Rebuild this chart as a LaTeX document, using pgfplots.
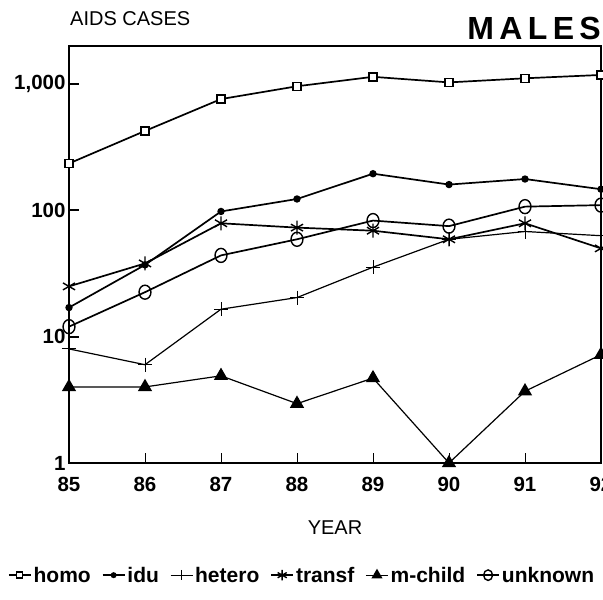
\documentclass[border=0pt]{standalone}
\usepackage{fontspec}
\setmainfont{Liberation Sans}
\usepackage{pgfplots}
\pgfplotsset{compat=1.18}
\begin{document}
\begin{tikzpicture}[x=1pt,y=1pt]
\begin{semilogyaxis}[
  at={(69pt,137pt)}, anchor=south west,
  scale only axis, width=532pt, height=417pt,
  xmin=85, xmax=92, ymin=1, ymax=2000,
  clip=false,
  axis line style={line width=2pt},
  xtick={85,86,87,88,89,90,91,92},
  xticklabels={85,86,87,88,89,90,91,92},
  ytick={1,10,100,1000},
  yticklabels={1,10,100,{1,000}},
  yminorticks=false,
  tick pos=left,
  tick align=inside,
  major tick length=10pt,
  xtick style={line width=0.9pt, black},
  ytick style={line width=1.8pt, black},
  /pgf/number format/assume math mode=true,
  xticklabel style={font=\bfseries\fontsize{20.5}{20.5}\selectfont, yshift=-11pt},
  yticklabel style={font=\bfseries\fontsize{20.5}{20.5}\selectfont},
  xlabel={YEAR},
  xlabel style={font=\fontsize{20}{20}\selectfont, at={(axis description cs:0.5,0)}, anchor=center, yshift=-65pt},
  legend columns=6,
  legend style={draw=none, fill=none, at={(axis description cs:0.438,-0.269)}, anchor=center,
    font=\bfseries\fontsize{21}{21}\selectfont,
    /tikz/every even column/.append style={column sep=9pt},
    inner sep=0pt},
  legend image code/.code={\draw[mark repeat=2,mark phase=2,#1,/tikz/every mark/.append style={scale=0.75}] plot coordinates {(0pt,0pt) (11pt,0pt) (22pt,0pt)};},
]
\addplot[black, line width=1.7pt, mark=square*, mark size=4pt, mark options={fill=white, line width=1.4pt}]
 coordinates {(85,235) (86,425) (87,760) (88,960) (89,1140) (90,1030) (91,1110) (92,1180)};
\addlegendentry{homo}
\addplot[black, line width=1.7pt, mark=*, mark size=2.8pt]
 coordinates {(85,17) (86,37) (87,98) (88,123) (89,195) (90,160) (91,177) (92,147)};
\addlegendentry{idu}
\addplot[black, line width=1.2pt, mark=+, mark size=7pt, mark options={line width=0.9pt}]
 coordinates {(85,8) (86,6) (87,16.5) (88,20.4) (89,35.5) (90,59) (91,68) (92,63)};
\addlegendentry{hetero}
\addplot[black, line width=1.7pt, mark=asterisk, mark size=7pt, mark options={line width=1.4pt}]
 coordinates {(85,25) (86,38) (87,79) (88,73) (89,69) (90,59) (91,79) (92,50)};
\addlegendentry{transf}
\addplot[black, line width=1.2pt, mark=triangle*, mark size=7pt]
 coordinates {(85,4) (86,4) (87,4.9) (88,2.95) (89,4.7) (90,1) (91,3.7) (92,7.2)};
\addlegendentry{m-child}
\addplot[black, line width=1.7pt, mark=o, mark size=7pt, mark options={fill=white, line width=1.4pt, xscale=0.85}]
 coordinates {(85,12) (86,22.5) (87,44) (88,59) (89,83) (90,75) (91,107) (92,110)};
\addlegendentry{unknown}
\end{semilogyaxis}
\node[anchor=west, font=\fontsize{20}{20}\selectfont, inner sep=0pt] at (70pt,581pt) {AIDS CASES};
\node[anchor=east, font=\bfseries\fontsize{32}{32}\selectfont, inner sep=0pt] at (601pt,572pt) {M\,A\,L\,E\,S};
\pgfresetboundingbox
\path[use as bounding box] (0pt,0pt) rectangle (603pt,600pt);
\end{tikzpicture}
\end{document}
